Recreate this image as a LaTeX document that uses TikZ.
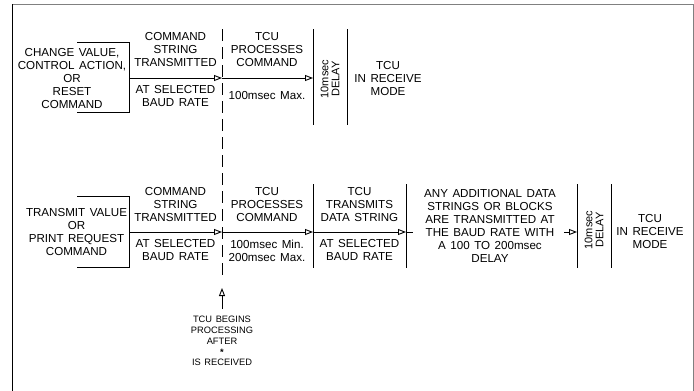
\documentclass[tikz,border=0pt]{standalone}
\usepackage{fontspec}
\setmainfont{Liberation Sans}[WordSpace=1.4]
\usetikzlibrary{arrows.meta}
\begin{document}
\begin{tikzpicture}[x=1pt,y=-1pt]
    \tikzstyle{txt}=[align=center, inner sep=0pt, font=\fontsize{11.6}{13}\selectfont]
    \tikzstyle{small}=[align=center, inner sep=0pt, font=\fontsize{9.3}{10.8}\selectfont]
    \tikzstyle{dly}=[align=center, inner sep=0pt, rotate=90, font=\fontsize{11}{11}\selectfont]
    \tikzstyle{ln}=[line width=0.9pt]
    \tikzstyle{arr}=[ln, -{Triangle[open, length=8pt, width=6pt]}]
    \useasboundingbox (0,0) rectangle (694,391);
    % frame
    \draw[gray, line width=1pt] (12,4) -- (693,4) -- (693,391);
    \draw[line width=1pt] (12,4) -- (12,391);
    % (a) change value / control action / reset
    \node[txt] (chg) at (72,79) {CHANGE VALUE,\\CONTROL ACTION,\\OR\\RESET\\COMMAND};
    \draw[ln] (77,42) -- (129,42) -- (129,112) -- (77,112);
    \coordinate (a0) at (129,78);
    \coordinate (a1) at (222,78);
    \coordinate (a2) at (313,78);
    \node[txt] (cst1) at (175.5,50) {COMMAND\\STRING\\TRANSMITTED};
    \node[txt] (bd1) at (175.5,96.5) {AT SELECTED\\BAUD RATE};
    \node[txt] (prc1) at (267,50) {TCU\\PROCESSES\\COMMAND};
    \node[txt] (tm1) at (267,96) {100msec Max.};
    \node[dly] (dl1) at (330,79) {10msec\\DELAY};
    \node[txt] (rcv1) at (388,78.5) {TCU\\IN RECEIVE\\MODE};
    \foreach \x in {313,347} {\draw[ln] (\x,29) -- (\x,125);}
    \draw[arr] (a0) -- (a1);
    \draw[arr] (a1) -- (a2);
    % end of command string
    \draw[ln, dash pattern=on 12pt off 6pt] (222,29) -- (222,278);
    % (b) transmit value / print request
    \node[txt] (xmt) at (76.5,232.5) {TRANSMIT VALUE\\OR\\PRINT REQUEST\\COMMAND};
    \draw[ln] (77,196) -- (129,196) -- (129,267) -- (77,267);
    \coordinate (b0) at (129,232);
    \coordinate (b1) at (222,232);
    \coordinate (b2) at (313,232);
    \coordinate (b3) at (406,232);
    \coordinate (b4) at (413,232);
    \coordinate (b5) at (564,232);
    \coordinate (b6) at (577,232);
    \node[txt] (cst2) at (175.5,205) {COMMAND\\STRING\\TRANSMITTED};
    \node[txt] (bd2) at (175.5,250.5) {AT SELECTED\\BAUD RATE};
    \node[txt] (prc2) at (267,205) {TCU\\PROCESSES\\COMMAND};
    \node[txt] (tm2) at (267,250.5) {100msec Min.\\200msec Max.};
    \node[txt] (snd) at (359.5,205) {TCU\\TRANSMITS\\DATA STRING};
    \node[txt] (bd3) at (359.5,250.5) {AT SELECTED\\BAUD RATE};
    \node[txt] (more) at (490,225.5) {ANY ADDITIONAL DATA\\STRINGS OR BLOCKS\\ARE TRANSMITTED AT\\THE BAUD RATE WITH\\A 100 TO 200msec\\DELAY};
    \node[dly] (dl2) at (594,230) {10msec\\DELAY};
    \node[txt] (rcv2) at (650,232) {TCU\\IN RECEIVE\\MODE};
    \foreach \x in {313,406,577,611} {\draw[ln] (\x,184) -- (\x,268);}
    \draw[arr] (b0) -- (b1);
    \draw[arr] (b1) -- (b2);
    \draw[arr] (b2) -- (b3);
    \draw[ln] (b3) -- (b4);
    \draw[arr] (b5) -- (b6);
    % note below
    \node[small] (note) at (222,341) {TCU BEGINS\\PROCESSING\\AFTER\\\textbf{*}\\IS RECEIVED};
    \coordinate (n0) at (222,309);
    \coordinate (n1) at (222,288);
    \draw[arr] (n0) -- (n1);
\end{tikzpicture}
\end{document}
